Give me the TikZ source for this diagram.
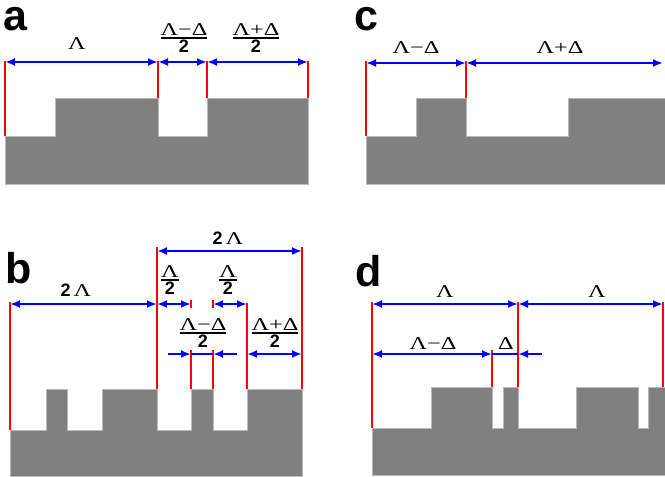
\documentclass[tikz,border=0pt]{standalone}
\usepackage{fontspec}
\usepackage{amsmath}
\usetikzlibrary{arrows.meta}
\newfontfamily\serifGr{Liberation Serif}[FakeStretch=1.35]
\newfontfamily\sansB{Liberation Sans}
\definecolor{fillgray}{RGB}{128,128,128}
\definecolor{edgegray}{RGB}{185,185,185}
\definecolor{dimblue}{RGB}{0,0,255}
\definecolor{tickred}{RGB}{255,0,0}
\newcommand\fr[2]{$\genfrac{}{}{1.6pt}{1}{\hbox{\serifGr #1}}{\hbox{\sansB\bfseries #2}}$}
\newcommand\twoL{{\sansB\bfseries 2}\,{\serifGr Λ}}
\tikzset{
  tip/.tip={Latex[length=10pt,width=8pt]},
  dimboth/.style={dimblue, line width=2pt, tip-tip},
  dimto/.style={dimblue, line width=2pt, -tip},
  dimplain/.style={dimblue, line width=2pt},
  tickline/.style={tickred, line width=2pt},
  ground/.style={fill=fillgray, draw=edgegray, line width=0.8pt},
  lab/.style={font=\serifGr\fontsize{18}{20}\selectfont, inner sep=0pt},
  panel/.style={font=\sansB\bfseries\fontsize{43}{43}\selectfont, inner sep=0pt, anchor=base west}
}
\begin{document}
\begin{tikzpicture}[x=1pt,y=-1pt]
\useasboundingbox (0,0) rectangle (665,477);
% ================= panel a =================
\node[panel, text height=23pt] (pa) at (3,30) {a};
\draw[ground] (5,184) -- (5,136) -- (55,136) -- (55,98) -- (158,98) -- (158,136) -- (207,136) -- (207,98) -- (308,98) -- (308,184) -- cycle;
\coordinate (a1t) at (5,61);   \coordinate (a1b) at (5,136);
\coordinate (a2t) at (158,61); \coordinate (a2b) at (158,98);
\coordinate (a3t) at (207,61); \coordinate (a3b) at (207,98);
\coordinate (a4t) at (308,61); \coordinate (a4b) at (308,98);
\foreach \i in {1,...,4} \draw[tickline] (a\i t) -- (a\i b);
\coordinate (a1) at (5,62); \coordinate (a2) at (158,62); \coordinate (a3) at (207,62); \coordinate (a4) at (308,62);
\draw[dimboth] (a1) -- (a2);
\draw[dimboth] (a2) -- (a3);
\draw[dimboth] (a3) -- (a4);
\node[lab] (la1) at (77,44) {Λ};
\node[lab] (la2) at (184,38) {\fr{Λ−Δ}{2}};
\node[lab] (la3) at (256,38) {\fr{Λ+Δ}{2}};
% ================= panel b =================
\node[panel] (pb) at (5,283) {b};
\draw[ground] (10,476) -- (10,430) -- (46,430) -- (46,389) -- (67,389) -- (67,430) -- (102,430) -- (102,389) -- (157,389) -- (157,430) -- (191,430) -- (191,389) -- (213,389) -- (213,430) -- (247,430) -- (247,389) -- (302,389) -- (302,476) -- cycle;
\coordinate (b1t) at (10,302);  \coordinate (b1b) at (10,430);
\coordinate (b2t) at (157,247); \coordinate (b2b) at (157,389);
\coordinate (b3t) at (302,247); \coordinate (b3b) at (302,389);
\coordinate (b4t) at (247,303); \coordinate (b4b) at (247,389);
\coordinate (b5t) at (191,350); \coordinate (b5b) at (191,389);
\coordinate (b6t) at (213,350); \coordinate (b6b) at (213,389);
\coordinate (b7t) at (191,300); \coordinate (b7b) at (191,308);
\coordinate (b8t) at (213,300); \coordinate (b8b) at (213,308);
\foreach \i in {1,...,8} \draw[tickline] (b\i t) -- (b\i b);
% top 2Lambda
\coordinate (bt1) at (157,251); \coordinate (bt2) at (302,251);
\draw[dimboth] (bt1) -- (bt2);
% row y=304
\coordinate (bm1) at (10,304); \coordinate (bm2) at (157,304); \coordinate (bm3) at (191,304);
\coordinate (bm4) at (213,304); \coordinate (bm5) at (247,304);
\draw[dimboth] (bm1) -- (bm2);
\draw[dimboth] (bm2) -- (bm3);
\draw[dimboth] (bm4) -- (bm5);
% row y=354
\coordinate (bl0) at (168,354); \coordinate (bl1) at (191,354); \coordinate (bl2) at (213,354);
\coordinate (bl3) at (237,354); \coordinate (bl4) at (247,354); \coordinate (bl5) at (302,354);
\draw[dimto] (bl0) -- (bl1);
\draw[dimplain] (bl1) -- (bl2);
\draw[dimto] (bl3) -- (bl2);
\draw[dimboth] (bl4) -- (bl5);
\node[lab] (lb1) at (228,238) {\twoL};
\node[lab] (lb2) at (76,290) {\twoL};
\node[lab] (lb3) at (170,280) {\fr{Λ}{2}};
\node[lab] (lb4) at (228,280) {\fr{Λ}{2}};
\node[lab] (lb5) at (203,333) {\fr{Λ−Δ}{2}};
\node[lab] (lb6) at (275,333) {\fr{Λ+Δ}{2}};
% ================= panel c =================
\node[panel, text height=23pt] (pc) at (354,30) {c};
\draw[ground] (366,184) -- (366,136) -- (416,136) -- (416,98) -- (466,98) -- (466,136) -- (568,136) -- (568,98) -- (666,98) -- (666,184) -- cycle;
\coordinate (c1t) at (366,61); \coordinate (c1b) at (366,136);
\coordinate (c2t) at (466,61); \coordinate (c2b) at (466,98);
\foreach \i in {1,2} \draw[tickline] (c\i t) -- (c\i b);
\coordinate (c1) at (366,63); \coordinate (c2) at (466,63); \coordinate (c3) at (663,63);
\draw[dimboth] (c1) -- (c2);
\draw[dimboth] (c2) -- (c3);
\node[lab] (lc1) at (416,48) {Λ−Δ};
\node[lab] (lc2) at (560,48) {Λ+Δ};
% ================= panel d =================
\node[panel] (pd) at (355,286) {d};
\draw[ground] (372,475) -- (372,428) -- (431,428) -- (431,387) -- (492,387) -- (492,428) -- (503,428) -- (503,387) -- (518,387) -- (518,428) -- (576,428) -- (576,387) -- (638,387) -- (638,428) -- (648,428) -- (648,387) -- (666,387) -- (666,475) -- cycle;
\coordinate (d1t) at (372,302); \coordinate (d1b) at (372,428);
\coordinate (d2t) at (518,302); \coordinate (d2b) at (518,387);
\coordinate (d3t) at (663,302); \coordinate (d3b) at (663,387);
\coordinate (d4t) at (492,350); \coordinate (d4b) at (492,387);
\foreach \i in {1,...,4} \draw[tickline] (d\i t) -- (d\i b);
\coordinate (dt1) at (372,304); \coordinate (dt2) at (518,304); \coordinate (dt3) at (663,304);
\draw[dimboth] (dt1) -- (dt2);
\draw[dimboth] (dt2) -- (dt3);
\coordinate (dm1) at (372,354); \coordinate (dm2) at (492,354); \coordinate (dm3) at (518,354); \coordinate (dm4) at (542,354);
\draw[dimboth] (dm1) -- (dm2);
\draw[dimplain] (dm2) -- (dm3);
\draw[dimto] (dm4) -- (dm3);
\node[lab] (ld1) at (445,292) {Λ};
\node[lab] (ld2) at (597,292) {Λ};
\node[lab] (ld3) at (433,344) {Λ−Δ};
\node[lab] (ld4) at (506,344) {Δ};
\end{tikzpicture}
\end{document}
